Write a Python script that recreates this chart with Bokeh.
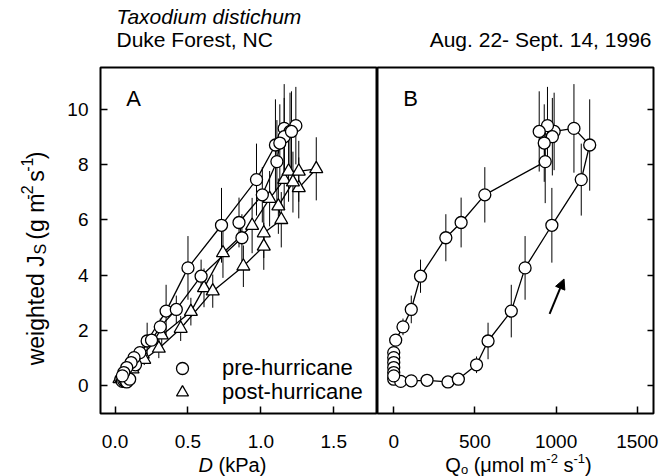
import math
from bokeh.plotting import figure
from bokeh.layouts import row, column
from bokeh.models import (Label, Legend, LegendItem, FixedTicker, Range1d,
                          Arrow, NormalHead)
from bokeh.embed import file_html
from bokeh.resources import INLINE

# ---------------- data ----------------
# pre-hurricane diurnal course (same points in both panels)
pre_Q = [0, 43, 108, 205, 334, 398, 510, 581, 724, 809, 974, 1155, 1207, 1110, 988, 947,
         977, 896, 927, 933, 561, 415, 321, 165, 108, 57, 12, 0, 0, 0, 0, 0, 0]
pre_J = [0.24, 0.16, 0.18, 0.20, 0.14, 0.24, 0.76, 1.62, 2.70, 4.26, 5.80, 7.45, 8.70, 9.30, 9.19, 9.40,
         9.00, 9.19, 8.77, 8.10, 6.90, 5.90, 5.35, 3.96, 2.76, 2.13, 1.65, 1.20, 1.02, 0.84, 0.66, 0.48, 0.36]
pre_D = [0.04, 0.05, 0.06, 0.07, 0.08, 0.10, 0.14, 0.22, 0.35, 0.50, 0.73, 0.97, 1.10, 1.16, 1.20, 1.24,
         1.16, 1.21, 1.13, 1.11, 1.01, 0.85, 0.87, 0.59, 0.42, 0.31, 0.25, 0.17, 0.13, 0.11, 0.08, 0.06, 0.05]
pre_err = [0.05, 0.05, 0.05, 0.05, 0.05, 0.08, 0.30, 0.66, 0.95, 1.15, 1.35, 1.30, 1.65, 1.60, 1.40, 1.40,
           1.40, 1.45, 1.40, 1.50, 1.00, 0.90, 0.85, 0.60, 0.50, 0.30, 0.20, 0.15, 0.10, 0.10, 0.08, 0.06, 0.05]

# post-hurricane diurnal course (panel A only)
post_D = [0.03, 0.05, 0.08, 0.12, 0.19, 0.32, 0.52, 0.61, 0.74, 0.94, 1.06, 1.16, 1.19, 1.26,
          1.38, 1.26, 1.22, 1.12, 1.14, 1.02, 1.02, 0.88, 0.67, 0.45, 0.30, 0.20, 0.12, 0.07]
post_J = [0.25, 0.30, 0.45, 0.70, 1.14, 1.83, 2.68, 3.54, 4.80, 5.79, 6.76, 7.45, 7.75, 7.75,
          7.84, 7.15, 7.36, 6.49, 6.00, 5.52, 5.04, 4.32, 3.42, 2.07, 1.35, 0.95, 0.60, 0.40]
post_err = [0.05, 0.05, 0.08, 0.12, 0.20, 0.35, 0.50, 0.70, 0.90, 1.00, 1.00, 1.10, 1.10, 1.10,
            1.14, 1.10, 1.10, 1.00, 1.00, 0.90, 0.85, 0.75, 0.60, 0.45, 0.35, 0.20, 0.12, 0.08]

xticks_A = [0.0, 0.5, 1.0, 1.5]
xlabels_A = ["0.0", "0.5", "1.0", "1.5"]
xticks_B = [0, 500, 1000, 1500]
xlabels_B = ["0", "500", "1000", "1500"]
yticks = [0, 2, 4, 6, 8, 10]
ylabels = ["0", "2", "4", "6", "8", "10"]

FONT = "Liberation Sans"

# layout strips (px, origin at top-left of the layout)
W_TOTAL = 660
H_HEAD = 52          # y 0..52
H_MAIN = 398         # y 52..450
H_XT = 26            # y 450..476
W_YLAB = 58          # x 0..58
W_A = 319            # x 58..377
W_B = 283            # x 377..660
MAIN_BOT = H_HEAD + H_MAIN
FRAME_BOT = 413

# Arial / Liberation Sans advance widths (per 1000 em)
AW = {' ': 278, '(': 333, ')': 333, '-': 333, '1': 556, '2': 556, 'D': 722, 'J': 500, 'P': 667,
      'Q': 778, 'S': 667, 'a': 556, 'd': 556, 'e': 556, 'g': 556, 'h': 556, 'i': 222, 'k': 500,
      'l': 222, 'm': 833, 'o': 556, 's': 500, 't': 278, 'w': 722, 'μ': 577}


def tw(s, size):
    return sum(AW.get(c, 556) for c in s) * size / 1000.0


def blank(w, h):
    f = figure(width=w, height=h, x_range=Range1d(0, w), y_range=Range1d(0, h),
               output_backend="svg", toolbar_location=None,
               x_axis_location=None, y_axis_location=None,
               min_border=0, min_border_left=0, min_border_right=0,
               min_border_top=0, min_border_bottom=0)
    f.outline_line_color = None
    f.grid.visible = False
    f.background_fill_color = "white"
    f.border_fill_color = "white"
    return f


def lab(p, text, x, y, size, align="left", style_="normal", angle=0, baseline="alphabetic"):
    p.add_layout(Label(x=x, y=y, text=text,
                       text_font=FONT, text_font_size=f"{size}px", text_align=align,
                       text_baseline=baseline, text_font_style=style_, angle=angle,
                       text_color="black"))


def style(p, xt, xl):
    p.outline_line_color = "black"
    p.outline_line_width = 2
    p.grid.visible = False
    p.background_fill_color = "white"
    p.border_fill_color = "white"
    for ax in p.axis:
        ax.axis_line_color = None
        ax.major_tick_in = 7
        ax.major_tick_out = 0
        ax.minor_tick_line_color = None
        ax.major_tick_line_width = 1.5
        ax.major_tick_line_color = "black"
        ax.major_label_text_font = FONT
        ax.major_label_text_font_size = "19px"
        ax.major_label_text_color = "black"
    p.xaxis.ticker = FixedTicker(ticks=xt)
    p.xaxis.major_label_overrides = {t: l for t, l in zip(xt, xl)}
    p.xaxis.major_label_standoff = 21
    p.yaxis.ticker = FixedTicker(ticks=yticks)


# ---------------- header strip ----------------
head = blank(W_TOTAL, H_HEAD)
lab(head, "Taxodium distichum", 116, H_HEAD - 16, 21, style_="italic", baseline="middle")
lab(head, "Duke Forest, NC", 116, H_HEAD - 39, 21, baseline="middle")
lab(head, "Aug. 22- Sept. 14, 1996", 651, H_HEAD - 39, 21, align="right", baseline="middle")

# ---------------- y-title strip (rotated, pieces) ----------------
ylab = blank(W_YLAB, H_MAIN)
ys, ss = 23, 16
sp = tw(" ", ys)
# (text, size, shift across the text, gap before)
first = "weighted J"
pieces = [("S", ss, 5, 1), ("(g m", ys, 0, sp), ("-2", ss, -9, 0),
          ("s", ys, 0, sp), ("-1", ss, -9, 0), (")", ys, 0, 0)]
total = tw(first, ys) + sum(tw(t, s) + g for t, s, _, g in pieces)
ypos = (MAIN_BOT - 264) - total / 2 + tw(first, ys)
xbase = 35
# first piece anchored at its end so that the subscript follows it exactly
lab(ylab, first, xbase, ypos, ys, align="right", angle=math.pi / 2)
for t, s, off, g in pieces:
    ypos += g
    lab(ylab, t, xbase + off, ypos, s, angle=math.pi / 2)
    ypos += tw(t, s)

# ---------------- panel A ----------------
pA = figure(width=W_A, height=H_MAIN, x_range=Range1d(-0.1, 1.8), y_range=Range1d(-1, 11.5),
            output_backend="svg", toolbar_location=None,
            min_border_left=42, min_border_right=0, min_border_top=15, min_border_bottom=37)
style(pA, xticks_A, xlabels_A)
pA.yaxis.major_label_overrides = {t: l for t, l in zip(yticks, ylabels)}
pA.yaxis.major_label_standoff = 12

pA.line(pre_D, pre_J, line_color="black", line_width=1.3)
pA.line(post_D, post_J, line_color="black", line_width=1.3)
pA.segment(pre_D, [j - e for j, e in zip(pre_J, pre_err)], pre_D,
           [j + e for j, e in zip(pre_J, pre_err)], line_color="black", line_width=1)
pA.segment(post_D, [j - e for j, e in zip(post_J, post_err)], post_D,
           [j + e for j, e in zip(post_J, post_err)], line_color="black", line_width=1)
rt = pA.scatter(post_D, post_J, marker="triangle", size=13, fill_color="white",
                line_color="black", line_width=1.3)
rc = pA.scatter(pre_D, pre_J, marker="circle", size=12, fill_color="white",
                line_color="black", line_width=1.3)

for item_label, rend, loc in [("pre-hurricane", rc, (67, 30)), ("post-hurricane", rt, (67, 6))]:
    pA.add_layout(Legend(items=[LegendItem(label=item_label, renderers=[rend])],
                         location=loc, glyph_width=30, glyph_height=30, label_standoff=25,
                         spacing=0, padding=0, margin=0, border_line_alpha=0,
                         background_fill_alpha=0, label_text_font=FONT,
                         label_text_font_size="22px", label_text_color="black"), "center")

pA.add_layout(Label(x=33, y=FRAME_BOT - 98, x_units="screen", y_units="screen", text="A",
                    text_font=FONT, text_font_size="22px", text_align="center",
                    text_baseline="middle", text_color="black"))

# ---------------- panel B ----------------
pB = figure(width=W_B, height=H_MAIN, x_range=Range1d(-100, 1600), y_range=Range1d(-1, 11.5),
            output_backend="svg", toolbar_location=None, y_axis_location="right",
            min_border_left=0, min_border_right=7, min_border_top=15, min_border_bottom=37)
style(pB, xticks_B, xlabels_B)
pB.yaxis.major_label_text_font_size = "1px"
pB.yaxis.major_label_text_color = None
pB.yaxis.major_label_standoff = 0
pB.yaxis.major_tick_in = 6

pB.line(pre_Q, pre_J, line_color="black", line_width=1.3)
pB.segment(pre_Q, [j - e for j, e in zip(pre_J, pre_err)], pre_Q,
           [j + e for j, e in zip(pre_J, pre_err)], line_color="black", line_width=1)
pB.scatter(pre_Q, pre_J, marker="circle", size=12, fill_color="white",
           line_color="black", line_width=1.3)

pB.add_layout(Arrow(x_start=960, y_start=2.6, x_end=1049, y_end=3.86, line_width=2,
                    line_color="black",
                    end=NormalHead(size=10, fill_color="black", line_color="black")))

pB.add_layout(Label(x=33, y=FRAME_BOT - 98, x_units="screen", y_units="screen", text="B",
                    text_font=FONT, text_font_size="22px", text_align="center",
                    text_baseline="middle", text_color="black"))

# ---------------- x-title strip ----------------
xt = blank(W_TOTAL, H_XT)
mid = 476 - 464
fs = 20
# D (kPa)
dparts = [("D", "italic", tw("D", fs) + tw(" ", fs)), ("(kPa)", "normal", tw("(kPa)", fs))]
xa = 232 - sum(w for _, _, w in dparts) / 2
for t, st, w in dparts:
    lab(xt, t, xa, mid, fs, style_=st, baseline="middle")
    xa += w
# Q_o (μmol m^-2 s^-1)
spq = tw(" ", fs)
qpieces = [("Q", fs, 0, 0), ("o", 13, -5, 0), ("(μmol m", fs, 0, spq), ("-2", 13, 6, 0),
           ("s", fs, 0, spq), ("-1", 13, 6, 0), (")", fs, 0, 0)]
qtot = sum(tw(t, s) + g for t, s, _, g in qpieces)
xq = 518 - qtot / 2
for t, s, off, g in qpieces:
    xq += g
    lab(xt, t, xq, mid + off, s, baseline="middle")
    xq += tw(t, s)

layout = column(head, row(ylab, pA, pB), xt)
open("out.html", "w").write(file_html(layout, INLINE))
